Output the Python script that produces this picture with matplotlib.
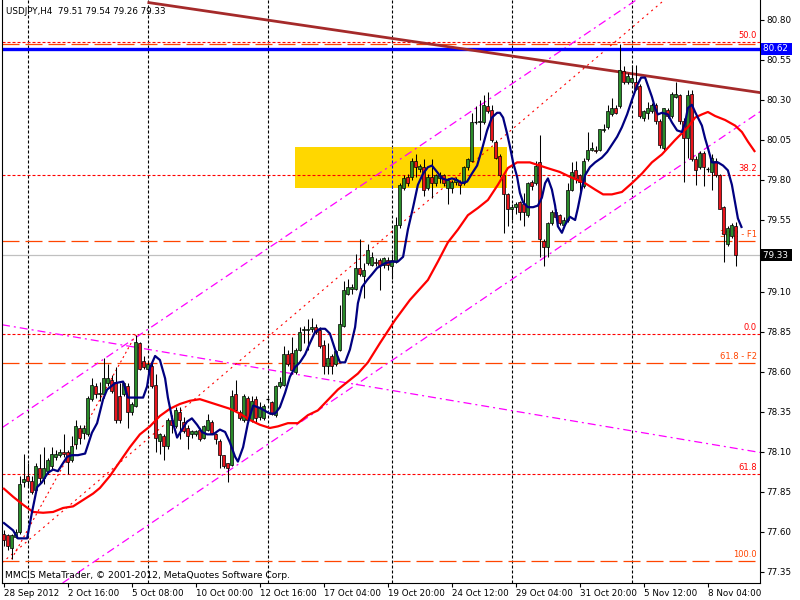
import matplotlib
matplotlib.use('Agg')
import matplotlib.pyplot as plt
from matplotlib.patches import Rectangle
import matplotlib.transforms as mtransforms

plt.rcParams['font.family'] = ['DejaVu Sans']

# ---------------- data ----------------
title_text = "USDJPY,H4  79.51 79.54 79.26 79.33"
footer_text = "MMCIS MetaTrader, © 2001-2012, MetaQuotes Software Corp."

opens = [77.59, 77.58, 77.50, 77.57, 77.60, 77.91, 77.95, 77.92, 77.86, 78.00,
         77.94, 77.98, 78.01, 78.07, 78.08, 78.10, 78.10, 78.05, 78.15, 78.25,
         78.22, 78.21, 78.43, 78.51, 78.46, 78.46, 78.53, 78.55, 78.54, 78.45,
         78.46, 78.51, 78.35, 78.39, 78.78, 78.67, 78.62, 78.64, 78.52, 78.17,
         78.20, 78.14, 78.30, 78.26, 78.35, 78.29, 78.25, 78.21, 78.21, 78.24,
         78.19, 78.24, 78.29, 78.21, 78.17, 78.08, 78.03, 78.02, 78.46, 78.35,
         78.30, 78.44, 78.30, 78.43, 78.32, 78.31, 78.43, 78.41, 78.33, 78.51,
         78.52, 78.71, 78.72, 78.60, 78.74, 78.86, 78.86, 78.87, 78.88, 78.86,
         78.77, 78.64, 78.70, 78.65, 78.74, 78.89, 79.09, 79.12, 79.12, 79.25,
         79.20, 79.28, 79.27, 79.29, 79.30, 79.27, 79.30, 79.26, 79.29, 79.52,
         79.75, 79.82, 79.82, 79.92, 79.87, 79.88, 79.75, 79.82, 79.78, 79.81,
         79.83, 79.75, 79.75, 79.79, 79.79, 79.78, 79.88, 79.92, 80.16, 80.16,
         80.16, 80.26, 80.24, 80.04, 79.95, 79.83, 79.71, 79.62, 79.63, 79.66,
         79.65, 79.58, 79.79, 79.78, 79.91, 79.42, 79.38, 79.53, 79.60, 79.58,
         79.52, 79.55, 79.74, 79.86, 79.83, 79.76, 79.93, 79.99, 79.99, 79.99,
         80.11, 80.13, 80.21, 80.25, 80.26, 80.48, 80.41, 80.41, 80.41, 80.39,
         80.19, 80.22, 80.23, 80.27, 80.17, 80.00, 80.24, 80.20, 80.32, 80.33,
         80.17, 80.06, 80.34, 79.93, 79.88, 79.97, 79.87, 79.85, 79.92, 79.83,
         79.63, 79.40, 79.45, 79.51]
highs = [77.61, 77.59, 77.59, 77.62, 77.95, 78.09, 78.03, 77.95, 78.03, 78.09,
         78.13, 78.06, 78.13, 78.11, 78.12, 78.21, 78.11, 78.20, 78.30, 78.27,
         78.27, 78.45, 78.56, 78.53, 78.54, 78.69, 78.65, 78.58, 78.63, 78.53,
         78.54, 78.53, 78.41, 78.83, 78.79, 78.70, 78.67, 78.66, 78.59, 78.22,
         78.21, 78.31, 78.33, 78.38, 78.38, 78.32, 78.27, 78.24, 78.24, 78.25,
         78.27, 78.34, 78.30, 78.22, 78.18, 78.08, 78.03, 78.49, 78.55, 78.36,
         78.46, 78.45, 78.45, 78.45, 78.41, 78.40, 78.44, 78.42, 78.52, 78.57,
         78.76, 78.74, 78.82, 78.75, 78.88, 78.89, 78.93, 78.94, 78.90, 78.88,
         78.80, 78.78, 78.71, 78.74, 79.02, 79.17, 79.18, 79.15, 79.34, 79.43,
         79.28, 79.40, 79.35, 79.31, 79.31, 79.32, 79.32, 79.34, 79.57, 79.78,
         79.83, 79.84, 79.94, 79.96, 79.90, 79.93, 79.84, 79.93, 79.84, 79.85,
         79.84, 79.81, 79.80, 79.82, 79.80, 79.89, 79.94, 80.22, 80.26, 80.30,
         80.33, 80.35, 80.27, 80.05, 79.96, 79.84, 79.72, 79.65, 79.66, 79.67,
         79.72, 79.79, 79.80, 79.92, 80.08, 79.43, 79.54, 79.61, 79.62, 79.59,
         79.57, 79.78, 79.91, 79.92, 79.84, 79.94, 80.10, 80.04, 80.01, 80.12,
         80.15, 80.27, 80.31, 80.27, 80.65, 80.51, 80.47, 80.52, 80.52, 80.40,
         80.24, 80.29, 80.28, 80.28, 80.18, 80.25, 80.25, 80.35, 80.41, 80.34,
         80.19, 80.36, 80.36, 79.95, 79.98, 79.98, 79.88, 79.96, 79.94, 79.84,
         79.64, 79.51, 79.53, 79.54]
lows = [77.51, 77.49, 77.43, 77.56, 77.59, 77.88, 77.88, 77.84, 77.85, 77.90,
        77.90, 77.96, 77.99, 78.05, 78.07, 78.07, 77.96, 78.04, 78.12, 78.15,
        78.18, 78.20, 78.42, 78.44, 78.42, 78.44, 78.51, 78.47, 78.28, 78.28,
        78.45, 78.25, 78.33, 78.38, 78.61, 78.62, 78.60, 78.50, 78.10, 78.09,
        78.05, 78.12, 78.22, 78.25, 78.18, 78.22, 78.12, 78.19, 78.20, 78.17,
        78.18, 78.23, 78.21, 78.15, 78.00, 78.00, 77.91, 78.01, 78.35, 78.30,
        78.29, 78.29, 78.29, 78.29, 78.30, 78.30, 78.42, 78.33, 78.32, 78.50,
        78.51, 78.64, 78.59, 78.59, 78.73, 78.78, 78.74, 78.85, 78.84, 78.75,
        78.59, 78.59, 78.59, 78.64, 78.73, 78.88, 79.08, 79.09, 79.11, 79.20,
        79.06, 79.27, 79.26, 79.26, 79.11, 79.25, 79.24, 79.18, 79.28, 79.50,
        79.74, 79.76, 79.80, 79.82, 79.85, 79.70, 79.74, 79.69, 79.76, 79.78,
        79.76, 79.65, 79.72, 79.77, 79.71, 79.77, 79.86, 79.91, 80.15, 80.05,
        80.15, 80.22, 80.04, 79.93, 79.82, 79.47, 79.51, 79.55, 79.59, 79.55,
        79.51, 79.57, 79.74, 79.77, 79.32, 79.26, 79.32, 79.52, 79.55, 79.52,
        79.51, 79.54, 79.73, 79.78, 79.71, 79.75, 79.92, 79.98, 79.97, 79.98,
        80.10, 80.12, 80.20, 80.21, 80.25, 80.40, 80.40, 80.40, 80.36, 80.19,
        80.17, 80.18, 80.22, 80.15, 80.00, 79.99, 80.19, 80.19, 80.31, 80.15,
        79.79, 79.94, 79.92, 79.77, 79.87, 79.76, 79.85, 79.74, 79.82, 79.62,
        79.29, 79.39, 79.44, 79.26]
closes = [77.55, 77.51, 77.58, 77.60, 77.90, 77.93, 77.92, 77.85, 78.01, 77.94,
          78.00, 78.05, 78.09, 78.09, 78.10, 78.09, 78.04, 78.14, 78.26, 78.19,
          78.25, 78.44, 78.52, 78.46, 78.47, 78.56, 78.56, 78.48, 78.30, 78.30,
          78.53, 78.35, 78.40, 78.79, 78.62, 78.63, 78.65, 78.51, 78.19, 78.21,
          78.14, 78.30, 78.27, 78.36, 78.30, 78.23, 78.20, 78.23, 78.23, 78.18,
          78.26, 78.30, 78.22, 78.18, 78.08, 78.01, 78.00, 78.45, 78.36, 78.31,
          78.45, 78.30, 78.42, 78.31, 78.38, 78.39, 78.43, 78.34, 78.51, 78.54,
          78.71, 78.65, 78.61, 78.74, 78.85, 78.87, 78.87, 78.88, 78.85, 78.76,
          78.64, 78.69, 78.64, 78.73, 78.90, 79.11, 79.13, 79.13, 79.25, 79.21,
          79.24, 79.36, 79.32, 79.28, 79.27, 79.31, 79.27, 79.30, 79.52, 79.77,
          79.81, 79.78, 79.92, 79.88, 79.89, 79.74, 79.82, 79.78, 79.83, 79.83,
          79.78, 79.80, 79.79, 79.80, 79.77, 79.88, 79.93, 80.16, 80.16, 80.17,
          80.27, 80.23, 80.05, 79.94, 79.83, 79.71, 79.62, 79.63, 79.65, 79.60,
          79.60, 79.78, 79.76, 79.89, 79.43, 79.38, 79.53, 79.60, 79.57, 79.53,
          79.55, 79.74, 79.85, 79.81, 79.79, 79.92, 79.99, 80.00, 79.98, 80.12,
          80.12, 80.23, 80.25, 80.22, 80.49, 80.41, 80.45, 80.44, 80.37, 80.20,
          80.23, 80.25, 80.27, 80.17, 80.02, 80.25, 80.20, 80.34, 80.34, 80.17,
          80.06, 80.33, 79.93, 79.86, 79.97, 79.88, 79.87, 79.94, 79.83, 79.62,
          79.46, 79.50, 79.52, 79.33]

# fast moving average (navy), sampled along the curve: bar index, price
blue_ma_bar = [-0.1, 2.4, 3.6, 5.9, 7.1, 8.4, 9.6, 11.1, 12.4, 13.6, 15.9, 17.1, 18.6, 20.4,
               22.1, 23.4, 24.9, 25.9, 27.9, 29.9, 31.1, 32.4, 34.9, 35.9, 36.6, 37.9, 39.1,
               40.4, 41.1, 42.4, 43.4, 44.6, 45.9, 47.1, 48.4, 49.6, 50.9, 52.4, 54.1, 55.4,
               56.6, 57.9, 58.6, 59.9, 61.1, 62.4, 64.1, 66.6, 67.9, 69.1, 70.4, 71.6, 72.9,
               74.1, 75.4, 76.6, 77.9, 79.1, 80.4, 81.6, 82.9, 84.1, 85.4, 86.6, 87.9, 88.6,
               89.6, 90.9, 92.1, 93.4, 95.4, 97.1, 98.6, 99.9, 101.1, 102.4, 103.6, 104.9,
               106.1, 107.1, 108.4, 109.6, 110.9, 112.1, 113.4, 114.6, 115.9, 117.1, 118.4,
               119.6, 120.9, 122.1, 123.4, 124.1, 124.9, 125.9, 126.6, 127.4, 128.4, 129.1,
               129.9, 131.1, 132.4, 133.6, 134.6, 135.4, 136.1, 137.1, 137.9, 138.6, 139.6,
               140.4, 141.6, 142.9, 143.6, 144.6, 145.4, 146.6, 147.9, 149.6, 150.9, 152.1,
               153.4, 154.6, 155.9, 157.1, 158.4, 159.4, 160.4, 161.1, 162.1, 162.9, 163.6,
               164.6, 166.1, 167.1, 168.4, 169.6, 170.4, 171.1, 172.1, 172.9, 173.6, 174.6,
               175.4, 176.1, 177.1, 178.6, 179.9, 181.1, 182.1, 182.9, 183.6, 184.6]
blue_ma_val = [77.66, 77.61, 77.56, 77.56, 77.72, 77.88, 77.91, 77.97, 77.99, 77.98, 78.07, 78.08, 78.08, 78.09,
               78.22, 78.28, 78.43, 78.49, 78.53, 78.54, 78.44, 78.44, 78.44, 78.51, 78.625, 78.70, 78.675,
               78.56, 78.44, 78.28, 78.19, 78.24, 78.29, 78.31, 78.27, 78.225, 78.21, 78.21, 78.24, 78.225,
               78.16, 78.07, 78.04, 78.13, 78.28, 78.39, 78.375, 78.34, 78.34, 78.38, 78.47, 78.57, 78.63,
               78.66, 78.71, 78.78, 78.85, 78.87, 78.87, 78.84, 78.74, 78.66, 78.66, 78.74, 78.88, 79.03,
               79.13, 79.175, 79.21, 79.25, 79.28, 79.29, 79.29, 79.32, 79.49, 79.63, 79.77, 79.84,
               79.88, 79.89, 79.85, 79.81, 79.80, 79.81, 79.80, 79.78, 79.79, 79.84, 79.89,
               79.99, 80.11, 80.19, 80.22, 80.22, 80.19, 80.09, 80.01, 79.91, 79.82, 79.72,
               79.66, 79.63, 79.63, 79.64, 79.69, 79.78, 79.81, 79.74, 79.64, 79.51, 79.47,
               79.52, 79.57, 79.55, 79.625, 79.75, 79.83, 79.88, 79.91, 79.94, 79.975, 80.02,
               80.07, 80.13, 80.21, 80.30, 80.39, 80.44, 80.44, 80.39, 80.32, 80.25, 80.21,
               80.22, 80.21, 80.16, 80.11, 80.10, 80.16, 80.25, 80.27, 80.225, 80.19, 80.14,
               80.06, 80.00, 79.91, 79.91, 79.89, 79.86, 79.77, 79.66, 79.56, 79.50]

# slow moving average (red), sampled along the curve: bar index, price
red_ma_bar = [-0.1, 2.4, 4.9, 7.4, 9.9, 12.4, 14.9, 17.4, 19.9, 22.4, 24.1, 26.6, 29.1, 31.6,
              34.1, 36.6, 39.1, 41.6, 44.1, 46.6, 49.1, 51.6, 54.1, 56.6, 59.1, 61.6, 64.1,
              66.6, 68.6, 71.1, 73.6, 76.1, 78.6, 81.1, 83.6, 86.1, 88.6, 91.1, 94.1, 97.9,
              101.6, 106.1, 108.6, 111.1, 113.6, 116.1, 118.6, 121.1, 123.6, 126.1, 128.4,
              131.6, 135.9, 139.1, 141.6, 145.4, 147.9, 149.9, 152.1, 154.6, 157.1, 159.6,
              162.1, 164.6, 167.9, 171.1, 172.9, 174.6, 176.1, 177.9, 180.4, 182.9, 184.6,
              186.1, 187.9]
red_ma_val = [77.875, 77.82, 77.77, 77.725, 77.72, 77.725, 77.75, 77.76, 77.80, 77.84, 77.875, 77.95, 78.04, 78.13,
              78.21, 78.26, 78.325, 78.37, 78.40, 78.42, 78.43, 78.41, 78.39, 78.37, 78.34, 78.30, 78.27,
              78.25, 78.26, 78.28, 78.28, 78.33, 78.36, 78.425, 78.49, 78.54, 78.59, 78.66, 78.78, 78.925,
              79.05, 79.175, 79.29, 79.41, 79.49, 79.58, 79.625, 79.675, 79.77, 79.875, 79.91,
              79.91, 79.875, 79.85, 79.82, 79.78, 79.74, 79.71, 79.71, 79.725, 79.78, 79.84,
              79.91, 79.96, 80.05, 80.13, 80.19, 80.21, 80.225, 80.20, 80.175, 80.14, 80.10,
              80.04, 79.975]

x_tick_labels = ['28 Sep 2012', '2 Oct 16:00', '5 Oct 08:00', '10 Oct 00:00', '12 Oct 16:00',
                 '17 Oct 04:00', '19 Oct 20:00', '24 Oct 12:00', '29 Oct 04:00', '31 Oct 20:00',
                 '5 Nov 12:00', '8 Nov 04:00']
x_tick_bars = [0, 16, 32, 48, 64, 80, 96, 112, 128, 144, 160, 176]
y_tick_values = [80.80, 80.55, 80.30, 80.05, 79.80, 79.55, 79.30, 79.10, 78.85, 78.60,
                 78.35, 78.10, 77.85, 77.60, 77.35]
y_tick_labels = ['80.80', '80.55', '80.30', '80.05', '79.80', '79.55', '', '79.10', '78.85',
                 '78.60', '78.35', '78.10', '77.85', '77.60', '77.35']
week_grid_bars = [6, 36, 66, 97, 127, 157]

red_fib_levels = [80.6625, 79.83, 78.84, 77.9625]
red_fib_labels = ['50.0', '38.2', '0.0', '61.8']
orange_fib_levels = [80.65, 79.42, 78.656, 77.42]
orange_fib_labels = ['', '38.2 - F1', '61.8 - F2', '100.0']

hline_price = 80.62
bid_price = 79.33

zone_bars = (72.9, 125.9)
zone_prices = (79.75, 80.006)

brown_trend = [(36, 80.91), (189.2, 80.346)]
magenta_upper = [(-0.1, 78.256), (127.4, 80.406)]
magenta_lower = [(15.9, 77.30), (187.9, 80.206)]
magenta_desc = [(-0.1, 78.894), (188.4, 78.10)]
red_dotted_trend = [(1.9, 77.456), (139.6, 80.381)]
fib_anchor_line = [(2, 77.43), (33, 78.83)]

# ---------------- drawing ----------------
def dash(px, lw):
    return (0, [p * 0.72 / lw for p in px])

fig = plt.figure(figsize=(8, 6), dpi=100)
fig.patch.set_facecolor('white')
ax = fig.add_axes([2 / 800, 17 / 600, 758 / 800, 583 / 600])
ax.set_xlim(-0.375, 189.125)
ax.set_ylim(77.281, 80.925)

# yellow zone
ax.add_patch(Rectangle((zone_bars[0], zone_prices[0]), zone_bars[1] - zone_bars[0],
                       zone_prices[1] - zone_prices[0], facecolor='#ffd700', edgecolor='none', zorder=0.5))

# weekly grid
for gb in week_grid_bars:
    ax.axvline(gb, color='black', lw=0.8, ls=dash([3, 2], 0.8), zorder=0.4)
ax.vlines(97, zone_prices[0], zone_prices[1], color='#0000ff', lw=0.8, ls=dash([3, 2], 0.8), zorder=0.6)

# fibonacci levels
for lev, lab in zip(red_fib_levels, red_fib_labels):
    ax.axhline(lev, color='#ff0000', lw=0.8, ls=dash([3, 2], 0.8), zorder=1.2)
    ax.text(188.4, lev + 0.012, lab, color='#ff0000', fontsize=6, ha='right', va='bottom', zorder=1.3)
for lev, lab in zip(orange_fib_levels, orange_fib_labels):
    ax.axhline(lev, color='#ff4500', lw=0.9, ls=dash([17, 6], 0.9), zorder=1.2)
    if lab:
        ax.text(188.4, lev + 0.012, lab, color='#ff4500', fontsize=6, ha='right', va='bottom', zorder=1.3)

# horizontal lines
ax.axhline(hline_price, color='#0000ff', lw=2.4, zorder=1.5)
ax.axhline(bid_price, color='#c0c0c0', lw=0.9, zorder=1.1)

# trend lines
ax.plot([brown_trend[0][0], brown_trend[1][0]], [brown_trend[0][1], brown_trend[1][1]],
        color='#a52a2a', lw=2.0, zorder=1.6, solid_capstyle='butt')
for ln in (magenta_upper, magenta_lower, magenta_desc):
    ax.axline(ln[0], ln[1], color='#ff00ff', lw=0.9, ls=dash([8, 4, 2, 4], 0.9), zorder=1.4)
ax.axline(red_dotted_trend[0], red_dotted_trend[1], color='#ff0000', lw=0.8, ls=dash([2, 4], 0.8), zorder=1.4)
ax.plot([fib_anchor_line[0][0], fib_anchor_line[1][0]], [fib_anchor_line[0][1], fib_anchor_line[1][1]],
        color='#ff0000', lw=0.8, ls=dash([2, 3], 0.8), zorder=1.4)

# candles
idx = list(range(len(opens)))
ax.vlines(idx, lows, highs, color='black', lw=0.75, zorder=3)
for i, o, c in zip(idx, opens, closes):
    lo, hi = min(o, c), max(o, c)
    if hi - lo < 0.008:
        ax.hlines(o, i - 0.38, i + 0.38, color='black', lw=0.9, zorder=4)
    else:
        col = '#2a8c2a' if c >= o else '#e8141c'
        ax.add_patch(Rectangle((i - 0.33, lo), 0.66, hi - lo, facecolor=col,
                               edgecolor='black', lw=0.5, zorder=4))

# moving averages
ax.plot(red_ma_bar, red_ma_val, color='#ff0000', lw=1.6, zorder=5, solid_capstyle='butt')
ax.plot(blue_ma_bar, blue_ma_val, color='#000080', lw=1.6, zorder=5.1, solid_capstyle='butt')

# axes styling
ax.spines['top'].set_visible(False)
for s in ('left', 'right', 'bottom'):
    ax.spines[s].set_linewidth(0.8)
    ax.spines[s].set_color('black')
ax.yaxis.tick_right()
ax.set_yticks(y_tick_values)
ax.set_yticklabels(y_tick_labels)
ax.set_xticks(x_tick_bars)
ax.set_xticklabels(x_tick_labels, ha='left')
ax.tick_params(axis='y', direction='out', length=3, width=0.8, labelsize=6.3, pad=1.5)
ax.tick_params(axis='x', direction='out', length=3, width=0.8, labelsize=6.3, pad=1.5)

# price boxes on the right scale
trans = mtransforms.blended_transform_factory(ax.transAxes, ax.transData)
ax.text(1.004, hline_price, '80.62 ', transform=trans, color='white', fontsize=6.3, va='center', ha='left',
        bbox=dict(boxstyle='square,pad=0.18', facecolor='#0000ff', edgecolor='none'), clip_on=False, zorder=10)
ax.text(1.004, bid_price, '79.33 ', transform=trans, color='white', fontsize=6.3, va='center', ha='left',
        bbox=dict(boxstyle='square,pad=0.18', facecolor='black', edgecolor='none'), clip_on=False, zorder=10)

fig.text(6 / 800, 1 - 11 / 600, title_text, fontsize=6.3, va='center', ha='left', color='black')
fig.text(5 / 800, 1 - 575 / 600, footer_text, fontsize=6.6, va='center', ha='left', color='black')

fig.savefig('out.png', dpi=100, facecolor='white')
